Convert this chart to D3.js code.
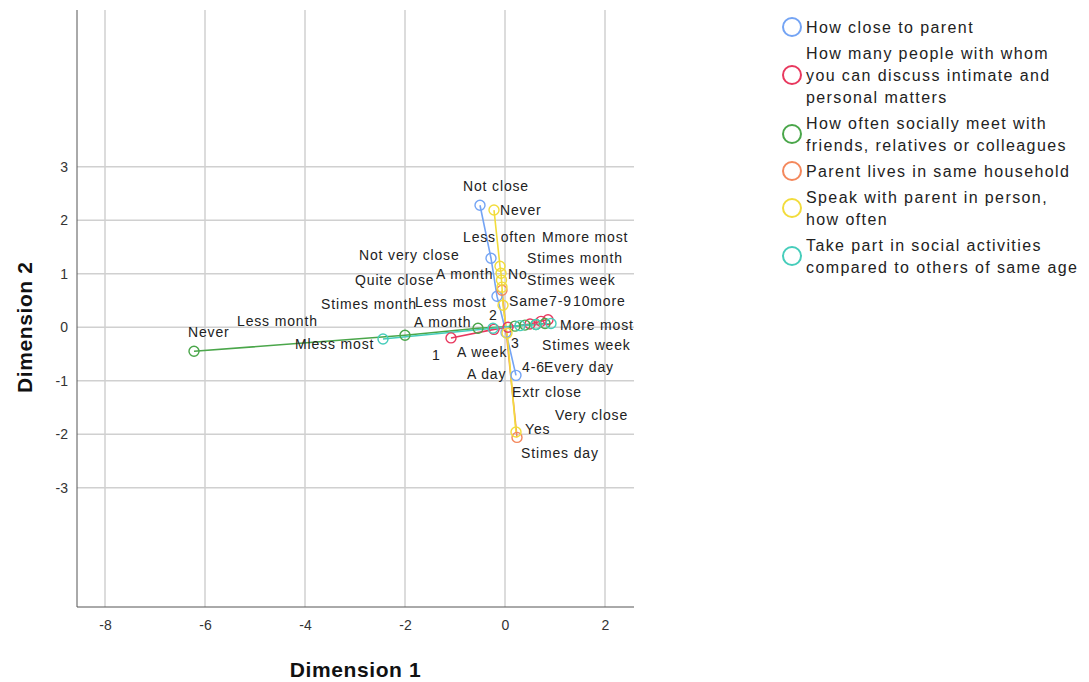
<!DOCTYPE html>
<head>
  <meta charset="utf-8">
  <style>
  body { margin: 0; background: #fff; font-family: "Liberation Sans", Arial, sans-serif; }
  .grid line { stroke: #d0d0d0; stroke-width: 1.5px; }
  .axis path, .axis line { stroke: #555; }
  .axis text { font-size: 14px; fill: #333; font-family: "Liberation Sans", Arial, sans-serif; }
  .lbl { font-size: 14px; fill: #222; letter-spacing: 0.85px; }
  .legend text { font-size: 16px; fill: #222; letter-spacing: 1.4px; }
  .title { font-size: 21px; font-weight: bold; letter-spacing: 0.6px; fill: #111; }
  </style>
  <script src="https://d3js.org/d3.v7.min.js"></script>
</head>
<body>
<svg width="1089" height="682"></svg>
<script>

// category points (Dimension 1, Dimension 2) and label anchors, per variable
var closeCats  = ["Not close", "Not very close", "Quite close", "Very close", "Extr close"];
var closeDim1  = [-0.50, -0.28, -0.16, 0.02, 0.22];
var closeDim2  = [2.28, 1.29, 0.58, -0.10, -0.90];
var closeLblX  = [-0.84, -2.92, -3.00, 1.00, 0.14];
var closeLblY  = [2.64, 1.35, 0.88, -1.64, -1.21];

var peopleCats = ["1", "2", "3", "4-6", "7-9", "10more"];
var peopleDim1 = [-1.08, -0.22, 0.06, 0.50, 0.72, 0.86];
var peopleDim2 = [-0.20, -0.04, 0.00, 0.06, 0.11, 0.14];
var peopleLblX = [-1.46, -0.32, 0.12, 0.34, 0.88, 1.36];
var peopleLblY = [-0.52, 0.22, -0.30, -0.75, 0.49, 0.49];

var meetCats   = ["Never", "Less month", "A month", "Stimes month", "A week", "Stimes week", "Every day"];
var meetDim1   = [-6.22, -2.00, -0.54, 0.20, 0.40, 0.62, 0.80];
var meetDim2   = [-0.45, -0.15, -0.02, 0.02, 0.04, 0.05, 0.07];
var meetLblX   = [-6.34, -5.36, -1.82, -3.68, null, 0.74, 0.78];
var meetLblY   = [-0.09, 0.11, 0.09, 0.43, null, -0.34, -0.75];

var houseCats  = ["No", "Yes"];
var houseDim1  = [-0.06, 0.24];
var houseDim2  = [0.69, -2.06];
var houseLblX  = [0.06, 0.40];
var houseLblY  = [0.99, -1.91];

var speakCats  = ["Never", "Less often", "A month", "Stimes month", "A week", "Stimes week", "A day", "Stimes day"];
var speakDim1  = [-0.22, -0.10, -0.08, -0.07, -0.06, -0.04, 0.04, 0.22];
var speakDim2  = [2.19, 1.14, 1.01, 0.88, 0.75, 0.41, -0.11, -1.96];
var speakLblX  = [-0.10, -0.84, -1.38, 0.44, -0.96, 0.44, -0.76, 0.32];
var speakLblY  = [2.19, 1.68, 0.99, 1.29, -0.47, 0.88, -0.88, -2.36];

var socCats    = ["Mless most", "Less most", "Same", "More most", "Mmore most"];
var socDim1    = [-2.44, -0.24, 0.30, 0.62, 0.92];
var socDim2    = [-0.22, -0.02, 0.03, 0.05, 0.07];
var socLblX    = [-4.20, -1.80, 0.08, 1.10, 0.74];
var socLblY    = [-0.32, 0.47, 0.49, 0.04, 1.68];

var legendNames = [
  ["How close to parent"],
  ["How many people with whom", "you can discuss intimate and", "personal matters"],
  ["How often socially meet with", "friends, relatives or colleagues"],
  ["Parent lives in same household"],
  ["Speak with parent in person,", "how often"],
  ["Take part in social activities", "compared to others of same age"]
];
var colors = ["#74a4f4", "#e8385e", "#4aa64a", "#f4885c", "#f2dc3c", "#46cdbb"];

var xTicks = [-8, -6, -4, -2, 0, 2];
var yTicks = [-3, -2, -1, 0, 1, 2, 3];

function build(cats, d1, d2, lx, ly) {
  return cats.map(function(c, i) {
    return { cat: c, x: d1[i], y: d2[i], lx: lx[i], ly: ly[i] };
  });
}
var series = [
  build(closeCats, closeDim1, closeDim2, closeLblX, closeLblY),
  build(peopleCats, peopleDim1, peopleDim2, peopleLblX, peopleLblY),
  build(meetCats, meetDim1, meetDim2, meetLblX, meetLblY),
  build(houseCats, houseDim1, houseDim2, houseLblX, houseLblY),
  build(speakCats, speakDim1, speakDim2, speakLblX, speakLblY),
  build(socCats, socDim1, socDim2, socLblX, socLblY)
];

var svg = d3.select("svg");
var pLeft = 77, pRight = 634, pTop = 10, pBottom = 607;

var x = d3.scaleLinear().domain([-8.56, 2.58]).range([pLeft, pRight]);
var y = d3.scaleLinear().domain([-5.23, 5.93]).range([pBottom, pTop]);

// grid
var grid = svg.append("g").attr("class", "grid");
grid.selectAll(".vx").data(xTicks).enter().append("line")
  .attr("x1", function(d) { return x(d); }).attr("x2", function(d) { return x(d); })
  .attr("y1", pTop).attr("y2", pBottom);
grid.selectAll(".hy").data(yTicks).enter().append("line")
  .attr("y1", function(d) { return y(d); }).attr("y2", function(d) { return y(d); })
  .attr("x1", pLeft).attr("x2", pRight);

// axes
var fmt = function(d) { return String(d); };
svg.append("g").attr("class", "axis")
  .attr("transform", "translate(0," + pBottom + ")")
  .call(d3.axisBottom(x).tickValues(xTicks).tickFormat(fmt).tickSize(0).tickPadding(13))
  .call(function(g) { g.select(".domain").attr("d", "M" + pLeft + ",0H" + pRight); });
svg.append("g").attr("class", "axis")
  .attr("transform", "translate(" + pLeft + ",0)")
  .call(d3.axisLeft(y).tickValues(yTicks).tickFormat(fmt).tickSize(0).tickPadding(9))
  .call(function(g) { g.select(".domain").attr("d", "M0," + pTop + "V" + pBottom); });

svg.append("text").attr("class", "title")
  .attr("x", (pLeft + pRight) / 2).attr("y", 670).attr("dy", "0.35em")
  .attr("text-anchor", "middle").text("Dimension 1");
svg.append("text").attr("class", "title")
  .attr("transform", "translate(25," + y(0) + ") rotate(-90)").attr("dy", "0.35em")
  .attr("text-anchor", "middle").text("Dimension 2");

// lines and points
var line = d3.line().x(function(d) { return x(d.x); }).y(function(d) { return y(d.y); });

series.forEach(function(s, i) {
  svg.append("path").datum(s)
    .attr("d", line).attr("fill", "none")
    .attr("stroke", colors[i]).attr("stroke-width", 1.6);
});
series.forEach(function(s, i) {
  svg.append("g").selectAll("circle").data(s).enter().append("circle")
    .attr("cx", function(d) { return x(d.x); })
    .attr("cy", function(d) { return y(d.y); })
    .attr("r", 5).attr("fill", "none")
    .attr("stroke", colors[i]).attr("stroke-width", 1.4);
});
series.forEach(function(s) {
  svg.append("g").selectAll("text").data(s.filter(function(d) { return d.lx != null; }))
    .enter().append("text").attr("class", "lbl")
    .attr("x", function(d) { return x(d.lx); })
    .attr("y", function(d) { return y(d.ly); })
    .attr("dy", "0.35em")
    .text(function(d) { return d.cat; });
});

// legend
var lg = svg.append("g").attr("class", "legend");
var ly = 27;
legendNames.forEach(function(lines, i) {
  var h = lines.length * 22;
  var cy = ly + (lines.length - 1) * 11;
  lg.append("circle").attr("cx", 792).attr("cy", cy).attr("r", 9)
    .attr("fill", "none").attr("stroke", colors[i]).attr("stroke-width", 2);
  lines.forEach(function(t, j) {
    lg.append("text").attr("x", 806).attr("y", ly + j * 22).attr("dy", "0.35em").text(t);
  });
  ly += h + 4;
});

</script>
</body>
